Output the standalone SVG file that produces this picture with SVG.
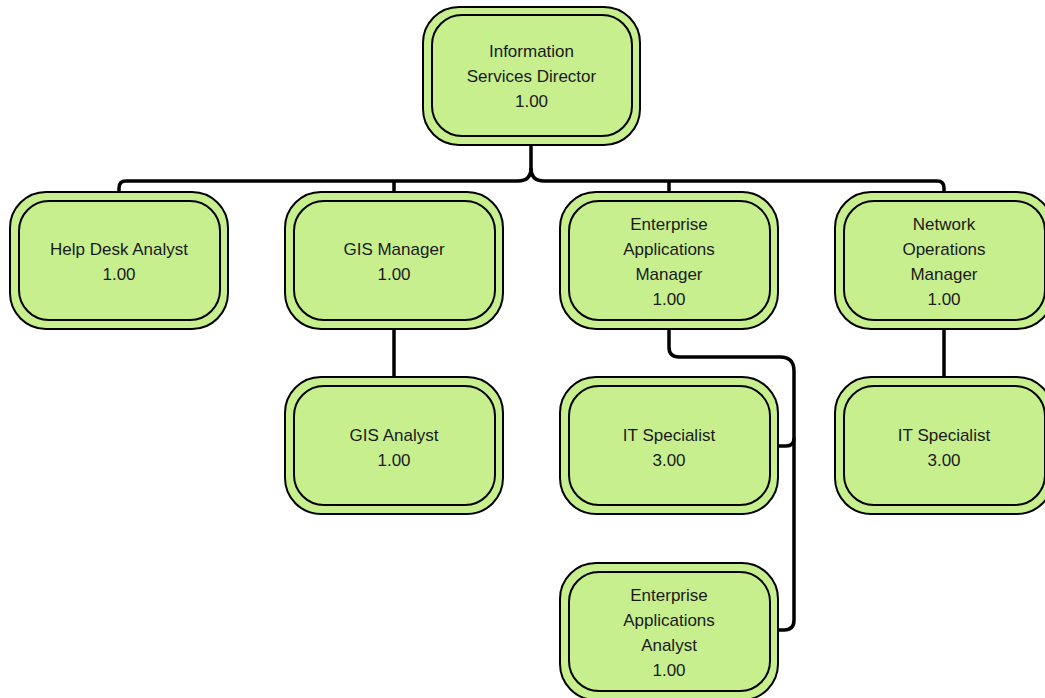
<svg xmlns="http://www.w3.org/2000/svg" width="1045" height="698" viewBox="0 0 1045 698">
<style>
.outer{fill:#c7ef8e;stroke:#000;stroke-width:2}
.inner{fill:#c7ef8e;stroke:#000;stroke-width:2}
.lbl{font-family:"Liberation Sans",Arial,sans-serif;font-size:17px;fill:#1a1a1a;text-anchor:middle}
.conn{fill:none;stroke:#000;stroke-width:3.5;stroke-linejoin:round}
</style>
<rect width="1045" height="698" fill="#fff"/>
<g id="connectors">
<path class="conn" d="M531,145 V168 Q531,181 518,181 H126 Q119,181 119,188 V193"/>
<path class="conn" d="M531,168 Q531,181 544,181 H937 Q944,181 944,188 V193"/>
<path class="conn" d="M394,181 V193"/>
<path class="conn" d="M669,181 V193"/>
<path class="conn" d="M394,329 V378"/>
<path class="conn" d="M944,329 V378"/>
<path class="conn" d="M669,329 V347 Q669,357 679,357 H780 Q794,357 794,371 V620 Q794,630 784,630 H778"/>
<path class="conn" d="M778,446 H786 Q794,446 794,438"/>
</g>
<g id="director">
<rect class="outer" x="423" y="7" width="217" height="138" rx="36"/>
<rect class="inner" x="432" y="15" width="200" height="121" rx="30"/>
<text class="lbl" x="531.5" y="57">Information</text>
<text class="lbl" x="531.5" y="82">Services Director</text>
<text class="lbl" x="531.5" y="107">1.00</text>
</g>
<g id="helpdesk">
<rect class="outer" x="10" y="192" width="218" height="137" rx="36"/>
<rect class="inner" x="19" y="201" width="201" height="119" rx="30"/>
<text class="lbl" x="119" y="255">Help Desk Analyst</text>
<text class="lbl" x="119" y="280">1.00</text>
</g>
<g id="gismanager">
<rect class="outer" x="285" y="192" width="218" height="137" rx="36"/>
<rect class="inner" x="294" y="201" width="201" height="119" rx="30"/>
<text class="lbl" x="394" y="255">GIS Manager</text>
<text class="lbl" x="394" y="280">1.00</text>
</g>
<g id="eamanager">
<rect class="outer" x="560" y="192" width="218" height="137" rx="36"/>
<rect class="inner" x="569" y="201" width="201" height="119" rx="30"/>
<text class="lbl" x="669" y="230">Enterprise</text>
<text class="lbl" x="669" y="255">Applications</text>
<text class="lbl" x="669" y="280">Manager</text>
<text class="lbl" x="669" y="305">1.00</text>
</g>
<g id="netmanager">
<rect class="outer" x="835" y="192" width="218" height="137" rx="36"/>
<rect class="inner" x="844" y="201" width="201" height="119" rx="30"/>
<text class="lbl" x="944" y="230">Network</text>
<text class="lbl" x="944" y="255">Operations</text>
<text class="lbl" x="944" y="280">Manager</text>
<text class="lbl" x="944" y="305">1.00</text>
</g>
<g id="gisanalyst">
<rect class="outer" x="285" y="377" width="218" height="137" rx="36"/>
<rect class="inner" x="294" y="386" width="201" height="119" rx="30"/>
<text class="lbl" x="394" y="441">GIS Analyst</text>
<text class="lbl" x="394" y="466">1.00</text>
</g>
<g id="itspec1">
<rect class="outer" x="560" y="377" width="218" height="137" rx="36"/>
<rect class="inner" x="569" y="386" width="201" height="119" rx="30"/>
<text class="lbl" x="669" y="441">IT Specialist</text>
<text class="lbl" x="669" y="466">3.00</text>
</g>
<g id="itspec2">
<rect class="outer" x="835" y="377" width="218" height="137" rx="36"/>
<rect class="inner" x="844" y="386" width="201" height="119" rx="30"/>
<text class="lbl" x="944" y="441">IT Specialist</text>
<text class="lbl" x="944" y="466">3.00</text>
</g>
<g id="eaanalyst">
<rect class="outer" x="560" y="563" width="218" height="137" rx="36"/>
<rect class="inner" x="569" y="572" width="201" height="119" rx="30"/>
<text class="lbl" x="669" y="601">Enterprise</text>
<text class="lbl" x="669" y="626">Applications</text>
<text class="lbl" x="669" y="651">Analyst</text>
<text class="lbl" x="669" y="676">1.00</text>
</g>
</svg>
